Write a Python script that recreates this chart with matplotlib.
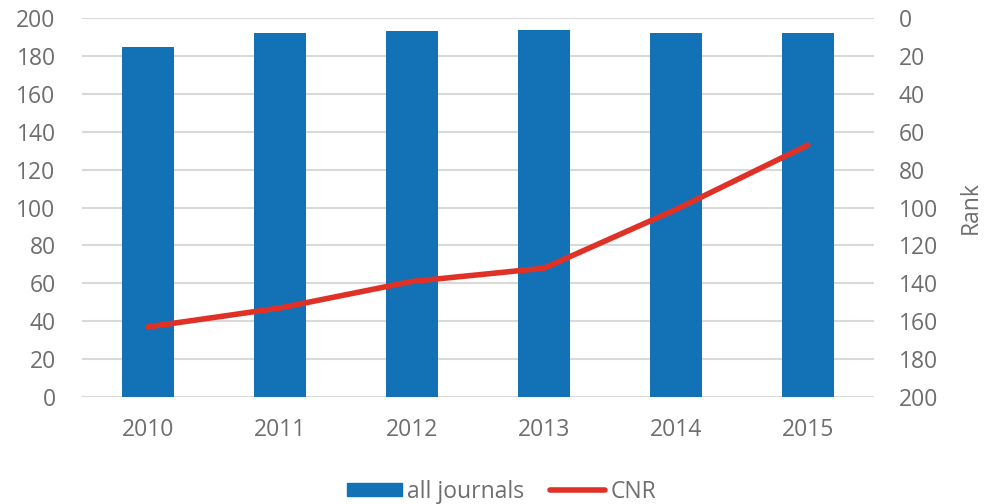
import matplotlib.pyplot as plt
from matplotlib.lines import Line2D
from matplotlib.patches import Patch

years = ['2010', '2011', '2012', '2013', '2014', '2015']
all_journals = [185, 192, 193, 194, 192, 192]
cnr_rank = [163, 153, 139, 132, 101, 67]

blue = '#1372B5'
red = '#E03127'
grey_text = '#6E6E6E'
grid_col = '#D9D9D9'

plt.rcParams['font.family'] = ['Open Sans', 'DejaVu Sans']
fs = 16.5

fig = plt.figure(figsize=(9.93, 5.04), dpi=100)
ax = fig.add_axes([0.0826, 0.2123, 0.7975, 0.7517])
x = list(range(len(years)))

ax.bar(x, all_journals, width=0.4, color=blue, zorder=2)
ax.set_ylim(0, 200)
ax.set_yticks(range(0, 201, 20))
ax.set_xlim(-0.5, len(years) - 0.5)
ax.set_xticks(x)
ax.set_xticklabels(years)
ax.yaxis.grid(True, color=grid_col, lw=1.5, zorder=0)
ax.set_axisbelow(True)
for s in ax.spines.values():
    s.set_visible(False)
ax.tick_params(length=0, labelsize=fs, colors=grey_text)
ax.tick_params(axis='x', pad=15)
ax.tick_params(axis='y', pad=19)

ax2 = ax.twinx()
ax2.plot(x, cnr_rank, color=red, lw=4, solid_capstyle='round', zorder=3)
ax2.set_ylim(200, 0)
ax2.set_yticks(range(0, 201, 20))
for s in ax2.spines.values():
    s.set_visible(False)
ax2.tick_params(length=0, labelsize=fs, colors=grey_text, pad=18)
ax2.set_ylabel('Rank', fontsize=fs, color=grey_text, labelpad=15)

handles = [Patch(color=blue, label='all journals'),
           Line2D([0], [0], color=red, lw=4, solid_capstyle='round', label='CNR')]
fig.legend(handles=handles, loc='lower center', bbox_to_anchor=(0.505, -0.04), ncol=2,
           frameon=False, fontsize=fs, labelcolor=grey_text, handlelength=2.4,
           handleheight=0.55, handletextpad=0.25, columnspacing=1.1)

fig.savefig('out.png', dpi=100)
